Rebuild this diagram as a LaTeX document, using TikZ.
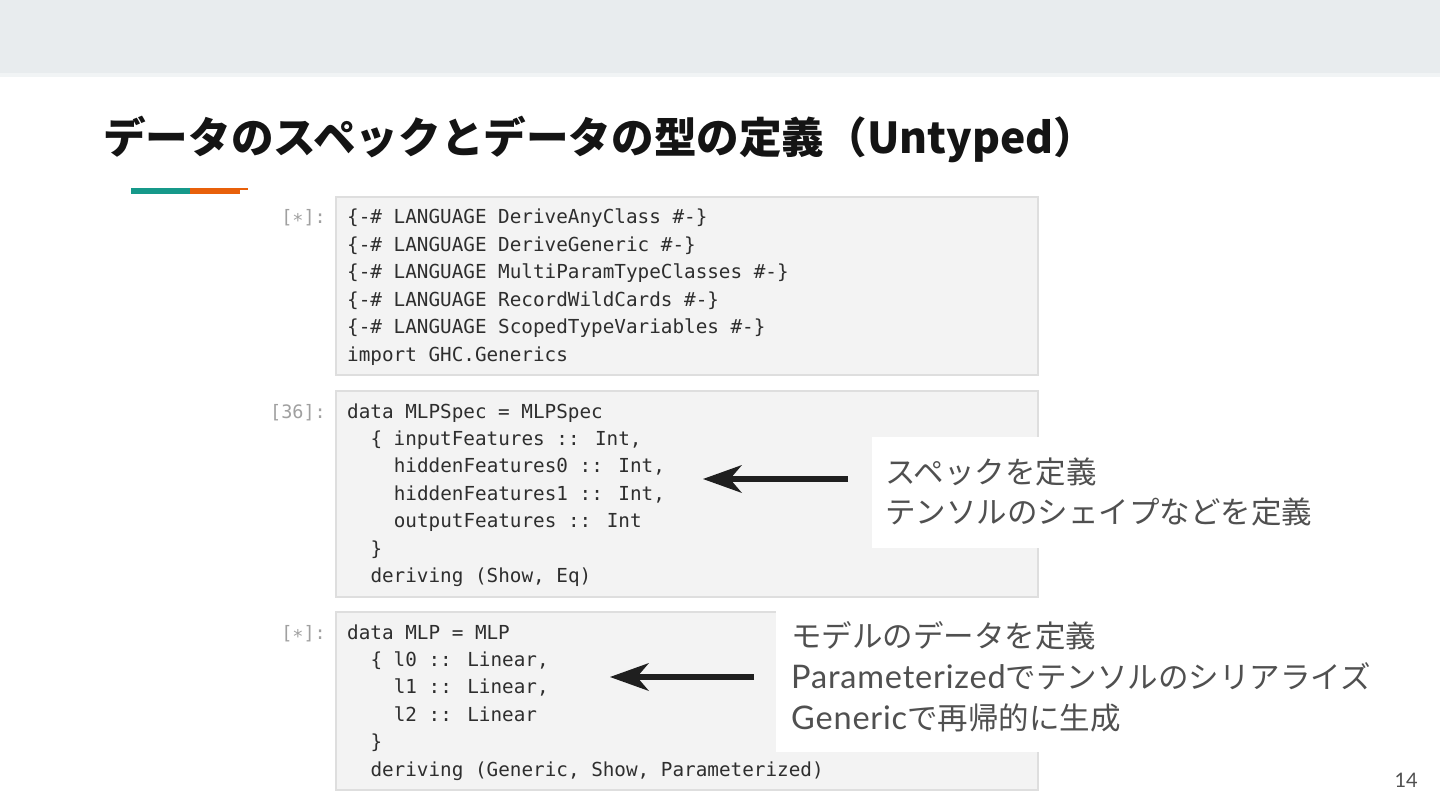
\documentclass[tikz,border=0pt]{standalone}
\usepackage{fontspec}
\usetikzlibrary{arrows.meta}
\newfontfamily\cjk{Noto Sans CJK JP}
\newfontfamily\lato{Lato}
\newfontfamily\latosp{Lato}[LetterSpace=2.5]
\newfontfamily\codefont{DejaVu Sans Mono}
\newcommand\latin[1]{{\latosp\fontsize{32.5}{36}\selectfont #1}}
\definecolor{band}{HTML}{E8ECEE}
\definecolor{accteal}{HTML}{16998A}
\definecolor{accorange}{HTML}{E8600A}
\definecolor{cellfill}{HTML}{F3F3F3}
\definecolor{cellline}{HTML}{DEDEDE}
\definecolor{codecol}{HTML}{2E2E2E}
\definecolor{promptcol}{HTML}{A0A0A0}
\definecolor{notecol}{HTML}{505050}
\tikzset{
  code/.style={anchor=base west, inner sep=0pt, text=codecol, font=\codefont\fontsize{19.3}{23}\selectfont},
  prompt/.style={anchor=base east, inner sep=0pt, text=promptcol, font=\codefont\fontsize{18.5}{22}\selectfont},
  note/.style={anchor=base west, inner sep=0pt, text=notecol, font=\cjk\fontsize{30.5}{36}\selectfont},
  cellbox/.style={fill=cellfill, draw=cellline, line width=1.5pt},
  callout/.style={-{Stealth[length=39pt,width=28pt,inset=12pt,line width=0pt]}, line width=6pt, draw=black!88},
}
\begin{document}
\begin{tikzpicture}[x=1pt,y=-1pt]
\useasboundingbox (0,0) rectangle (1440,810);
\fill[white] (0,0) rectangle (1440,810);
% top band
\fill[band] (0,0) rectangle (1440,75);
\fill[band!60!white] (0,73) rectangle (1440,77);
% title
\node[anchor=base west, inner sep=0pt, text=black!92, font=\cjk\bfseries\fontsize{42.6}{50}\selectfont] (title) at (103,154) {データのスペックとデータの型の定義（Untyped）};
% accent line
\fill[accteal] (131,188) rectangle (190,194);
\fill[accorange] (190,188) rectangle (240,194);
\fill[accorange] (240,188) rectangle (248,190);
% cells
\path[cellbox] (336,197) rectangle (1038,375);
\path[cellbox] (336,391) rectangle (1038,597);
\path[cellbox] (336,612) rectangle (1038,790);
% cell 1
\node[prompt] (p1) at (326,224) {[∗]:};
\node[code] (c1a) at (347,224) {\{-\# LANGUAGE DeriveAnyClass \#-\}};
\node[code] (c1b) at (347,251.4) {\{-\# LANGUAGE DeriveGeneric \#-\}};
\node[code] (c1c) at (347,278.8) {\{-\# LANGUAGE MultiParamTypeClasses \#-\}};
\node[code] (c1d) at (347,306.2) {\{-\# LANGUAGE RecordWildCards \#-\}};
\node[code] (c1e) at (347,333.6) {\{-\# LANGUAGE ScopedTypeVariables \#-\}};
\node[code] (c1f) at (347,361) {import GHC.Generics};
% cell 2
\node[prompt] (p2) at (326,418) {[36]:};
\node[code] (c2a) at (347,418) {data MLPSpec = MLPSpec};
\node[code] (c2b) at (370.3,445.4) {\{ inputFeatures :: Int,};
\node[code] (c2c) at (393.6,472.8) {hiddenFeatures0 :: Int,};
\node[code] (c2d) at (393.6,500.2) {hiddenFeatures1 :: Int,};
\node[code] (c2e) at (393.6,527.6) {outputFeatures :: Int};
\node[code] (c2f) at (370.3,555) {\}};
\node[code] (c2g) at (370.3,582.4) {deriving (Show, Eq)};
% cell 3
\node[prompt] (p3) at (326,639) {[∗]:};
\node[code] (c3a) at (347,639) {data MLP = MLP};
\node[code] (c3b) at (370.3,666.4) {\{ l0 :: Linear,};
\node[code] (c3c) at (393.6,693.8) {l1 :: Linear,};
\node[code] (c3d) at (393.6,721.2) {l2 :: Linear};
\node[code] (c3e) at (370.3,748.6) {\}};
\node[code] (c3f) at (370.3,776) {deriving (Generic, Show, Parameterized)};
% note boxes
\fill[white] (872,437) rectangle (1330,548);
\fill[white] (776,611) rectangle (1385,752);
% notes
\node[note] (n1a) at (885,483) {スペックを定義};
\node[note] (n1b) at (885,523) {テンソルのシェイプなどを定義};
\node[note] (n2a) at (791,647) {モデルのデータを定義};
\node[note] (n2b) at (791,688) {\latin{Parameterized}でテンソルのシリアライズ};
\node[note] (n2c) at (791,729) {\latin{Generic}で再帰的に生成};
% arrows
\coordinate (a1s) at (848,479);
\coordinate (a1e) at (703,479);
\coordinate (a2s) at (754,677);
\coordinate (a2e) at (610,677);
\draw[callout] (a1s) -- (a1e);
\draw[callout] (a2s) -- (a2e);
% page number
\node[anchor=base east, inner sep=0pt, text=notecol, font=\lato\fontsize{20}{24}\selectfont] (pg) at (1418,787) {14};
\end{tikzpicture}
\end{document}
